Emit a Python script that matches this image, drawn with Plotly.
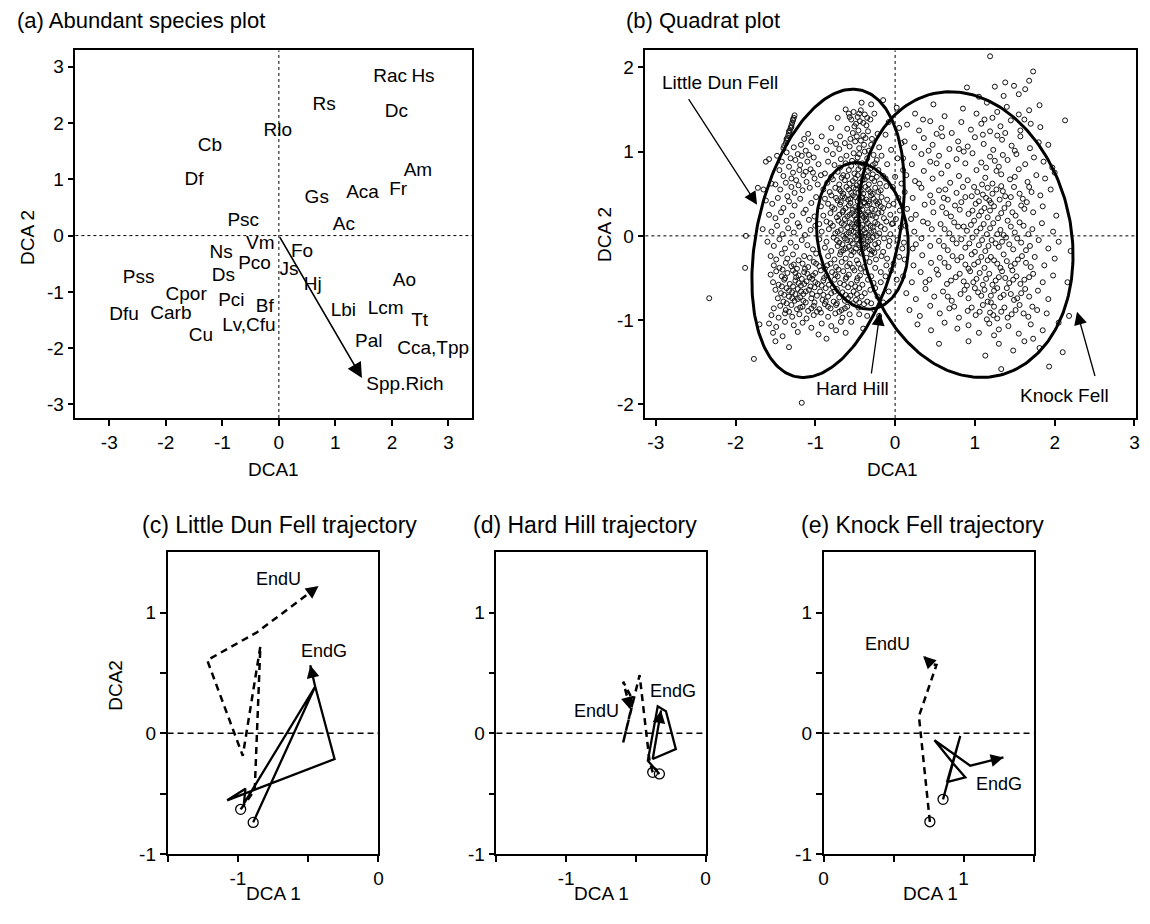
import numpy as np
import plotly.graph_objects as go

FONT = "Arial, Liberation Sans, Helvetica, sans-serif"

# ---------------- (a) Abundant species plot ----------------
species = ["Rac", "Hs", "Rs", "Dc", "Rlo", "Cb", "Df", "Am", "Fr", "Aca", "Gs", "Psc", "Ac", "Vm",
           "Ns", "Fo", "Pco", "Js", "Ds", "Pss", "Hj", "Ao", "Cpor", "Pci", "Bf", "Lbi", "Lcm",
           "Dfu", "Carb", "Tt", "Lv,Cfu", "Cu", "Pal", "Cca,Tpp", "Spp.Rich"]
sp_x = [1.97, 2.55, 0.80, 2.08, -0.02, -1.22, -1.50, 2.46, 2.11, 1.48, 0.67, -0.63, 1.15, -0.33,
        -1.02, 0.41, -0.43, 0.18, -0.98, -2.48, 0.60, 2.22, -1.64, -0.84, -0.25, 1.14, 1.89,
        -2.74, -1.91, 2.49, -0.53, -1.38, 1.59, 2.73, 2.23]
sp_y = [2.82, 2.82, 2.31, 2.19, 1.85, 1.58, 0.99, 1.14, 0.81, 0.76, 0.67, 0.25, 0.19, -0.15,
        -0.32, -0.30, -0.51, -0.61, -0.73, -0.76, -0.88, -0.82, -1.06, -1.17, -1.27, -1.35, -1.30,
        -1.42, -1.39, -1.53, -1.61, -1.78, -1.90, -2.02, -2.65]
rich_arrow_tip = (1.47, -2.53)

ticks_a = [-3, -2, -1, 0, 1, 2, 3]
ticks_b_x = [-3, -2, -1, 0, 1, 2, 3]
ticks_b_y = [-2, -1, 0, 1, 2]

# ---------------- (b) Quadrat plot ----------------
quad_points = [
    # streak along upper-left edge
    (-1.26, 1.43), (-1.27, 1.40), (-1.28, 1.37), (-1.29, 1.34), (-1.30, 1.31), (-1.31, 1.28),
    (-1.32, 1.25), (-1.33, 1.22), (-1.34, 1.19), (-1.35, 1.16), (-1.36, 1.13), (-1.37, 1.10),
    (-1.39, 1.07), (-1.40, 1.04), (-1.33, 1.24), (-1.28, 1.38), (-1.36, 1.15), (-1.30, 1.29),
    (-1.62, 0.88), (-1.58, 0.91), (-1.65, 0.55), (-1.72, 0.57), (-1.55, 0.62),
    # upper-left area
    (-1.48, 0.95), (-1.42, 0.88), (-1.36, 0.99), (-1.31, 0.92), (-1.27, 1.05), (-1.22, 0.97),
    (-1.18, 1.08), (-1.12, 1.01), (-1.05, 1.12), (-0.98, 1.05), (-1.45, 0.78), (-1.40, 0.71),
    (-1.33, 0.82), (-1.28, 0.75), (-1.24, 0.66), (-1.19, 0.84), (-1.15, 0.72), (-1.10, 0.88),
    (-1.06, 0.79), (-1.02, 0.93), (-0.96, 0.85), (-0.93, 0.72), (-1.50, 0.61), (-1.44, 0.55),
    (-1.37, 0.63), (-1.30, 0.58), (-1.26, 0.51), (-1.21, 0.60), (-1.16, 0.54), (-1.11, 0.64),
    (-1.07, 0.57), (-1.01, 0.68), (-0.97, 0.61), (-1.35, 0.47), (-1.14, 1.15), (-1.09, 1.21),
    (-0.92, 1.18), (-1.25, 0.90), (-1.17, 0.95), (-1.08, 0.96), (-1.20, 0.78), (-1.12, 0.76),
    (-1.30, 0.68), (-1.03, 0.75),
    # upper-centre
    (-0.62, 1.50), (-0.58, 1.45), (-0.52, 1.47), (-0.47, 1.41), (-0.43, 1.49), (-0.38, 1.44),
    (-0.55, 1.38), (-0.49, 1.33), (-0.44, 1.36), (-0.36, 1.31), (-0.31, 1.38), (-0.26, 1.45),
    (-0.60, 1.27), (-0.53, 1.22), (-0.46, 1.25), (-0.40, 1.19), (-0.34, 1.24), (-0.29, 1.15),
    (-0.22, 1.21), (-0.69, 1.18), (-0.74, 1.09), (-0.81, 1.12), (-0.86, 1.02), (-0.78, 0.97),
    (-0.70, 1.03), (-0.63, 1.10), (-0.57, 1.06), (-0.50, 1.12), (-0.45, 1.04), (-0.39, 1.08),
    (-0.33, 1.01), (-0.27, 0.96), (-0.20, 1.05), (-0.84, 0.88), (-0.76, 0.84), (-0.68, 0.91),
    (-0.61, 0.95), (-0.54, 0.89), (-0.47, 0.93), (-0.41, 0.86), (-0.35, 0.92), (-0.28, 0.84),
    (-0.23, 0.90), (-0.17, 0.95), (-0.42, 1.58), (-0.30, 1.56), (-0.15, 1.61), (-0.72, 1.40),
    (-0.80, 1.28), (-0.57, 1.41), (-0.51, 1.30), (-0.45, 1.45), (-0.40, 1.34), (-0.35, 1.40),
    (-0.56, 1.15), (-0.48, 1.18), (-0.43, 1.13), (-0.37, 1.16), (-0.52, 0.98), (-0.45, 0.97),
    (-0.38, 1.00), (-0.30, 1.08),
    # dense core
    (-0.72, 0.76), (-0.65, 0.72), (-0.58, 0.78), (-0.51, 0.74), (-0.46, 0.79), (-0.40, 0.71),
    (-0.34, 0.77), (-0.28, 0.73), (-0.21, 0.78), (-0.15, 0.71), (-0.80, 0.70), (-0.88, 0.74),
    (-0.85, 0.63), (-0.78, 0.67), (-0.70, 0.61), (-0.63, 0.66), (-0.57, 0.62), (-0.50, 0.68),
    (-0.44, 0.63), (-0.38, 0.67), (-0.33, 0.61), (-0.26, 0.65), (-0.19, 0.62), (-0.12, 0.68),
    (-0.48, 0.60), (-0.90, 0.55), (-0.82, 0.52), (-0.75, 0.57), (-0.68, 0.53), (-0.61, 0.58),
    (-0.55, 0.51), (-0.49, 0.56), (-0.43, 0.53), (-0.37, 0.58), (-0.31, 0.52), (-0.25, 0.57),
    (-0.18, 0.54), (-0.11, 0.59), (-0.40, 0.50), (-0.58, 0.55), (-0.88, 0.44), (-0.80, 0.48),
    (-0.72, 0.42), (-0.66, 0.47), (-0.59, 0.43), (-0.53, 0.48), (-0.47, 0.41), (-0.42, 0.46),
    (-0.36, 0.43), (-0.30, 0.48), (-0.24, 0.41), (-0.17, 0.46), (-0.10, 0.43), (-0.45, 0.44),
    (-0.39, 0.40), (-0.63, 0.45), (-0.93, 0.35), (-0.84, 0.38), (-0.76, 0.32), (-0.69, 0.37),
    (-0.62, 0.33), (-0.56, 0.39), (-0.50, 0.34), (-0.44, 0.37), (-0.41, 0.31), (-0.35, 0.36),
    (-0.29, 0.32), (-0.22, 0.38), (-0.15, 0.33), (-0.08, 0.36), (-0.47, 0.30), (-0.38, 0.39),
    (-0.53, 0.31), (-0.90, 0.24), (-0.81, 0.27), (-0.73, 0.22), (-0.66, 0.28), (-0.60, 0.23),
    (-0.54, 0.27), (-0.48, 0.21), (-0.43, 0.26), (-0.39, 0.22), (-0.34, 0.28), (-0.28, 0.24),
    (-0.21, 0.27), (-0.14, 0.21), (-0.06, 0.25), (-0.45, 0.29), (-0.36, 0.20), (-0.51, 0.24),
    (-0.95, 0.14), (-0.86, 0.17), (-0.78, 0.12), (-0.71, 0.18), (-0.64, 0.13), (-0.57, 0.16),
    (-0.51, 0.11), (-0.46, 0.17), (-0.41, 0.13), (-0.37, 0.18), (-0.31, 0.12), (-0.25, 0.16),
    (-0.18, 0.11), (-0.11, 0.17), (-0.04, 0.14), (-0.43, 0.10), (-0.49, 0.19), (-0.92, 0.05),
    (-0.83, 0.08), (-0.75, 0.03), (-0.68, 0.07), (-0.61, 0.02), (-0.55, 0.06), (-0.49, 0.09),
    (-0.44, 0.04), (-0.39, 0.07), (-0.33, 0.01), (-0.27, 0.06), (-0.20, 0.03), (-0.13, 0.08),
    (-0.06, 0.02), (-0.42, 0.00), (-0.36, 0.09), (-0.95, -0.04), (-0.86, -0.07), (-0.77, -0.02),
    (-0.70, -0.08), (-0.63, -0.03), (-0.56, -0.06), (-0.50, -0.01), (-0.45, -0.09), (-0.40, -0.04),
    (-0.34, -0.07), (-0.28, -0.02), (-0.21, -0.08), (-0.14, -0.03), (-0.07, -0.06), (-0.88, -0.14),
    (-0.80, -0.18), (-0.72, -0.12), (-0.65, -0.17), (-0.58, -0.13), (-0.52, -0.19), (-0.46, -0.11),
    (-0.41, -0.16), (-0.35, -0.12), (-0.29, -0.18), (-0.22, -0.14), (-0.15, -0.19), (-0.08, -0.12),
    (-0.84, -0.24), (-0.76, -0.28), (-0.69, -0.22), (-0.62, -0.27), (-0.55, -0.23), (-0.48, -0.29),
    (-0.42, -0.21), (-0.36, -0.26), (-0.30, -0.22), (-0.24, -0.28), (-0.17, -0.24), (-0.10, -0.27),
    (-0.43, 0.35), (-0.37, 0.25), (-0.41, 0.45), (-0.46, 0.14), (-0.39, -0.01), (-0.44, 0.58),
    (-0.69, 0.81), (-0.62, 0.86), (-0.55, 0.83), (-0.48, 0.87), (-0.43, 0.82), (-0.37, 0.85),
    (-0.31, 0.80), (-0.25, 0.86), (-0.67, 0.69), (-0.60, 0.71), (-0.53, 0.65), (-0.47, 0.72),
    (-0.41, 0.66), (-0.35, 0.70), (-0.29, 0.68), (-0.23, 0.70), (-0.65, 0.50), (-0.52, 0.57),
    (-0.46, 0.51), (-0.34, 0.55), (-0.28, 0.50), (-0.21, 0.52), (-0.70, 0.55), (-0.68, 0.40),
    (-0.56, 0.44), (-0.50, 0.46), (-0.33, 0.41), (-0.27, 0.44), (-0.20, 0.40), (-0.74, 0.45),
    (-0.65, 0.30), (-0.58, 0.36), (-0.46, 0.33), (-0.32, 0.38), (-0.25, 0.31), (-0.18, 0.35),
    (-0.79, 0.34), (-0.70, 0.25), (-0.63, 0.20), (-0.57, 0.25), (-0.41, 0.24), (-0.31, 0.25),
    (-0.24, 0.22), (-0.17, 0.28), (-0.67, 0.15), (-0.60, 0.10), (-0.54, 0.14), (-0.48, 0.15),
    (-0.34, 0.15), (-0.28, 0.10), (-0.22, 0.14), (-0.81, 0.15), (-0.72, 0.05), (-0.65, 0.00),
    (-0.58, 0.04), (-0.52, 0.05), (-0.47, 0.01), (-0.37, 0.03), (-0.30, 0.04), (-0.23, 0.00),
    (-0.73, -0.05), (-0.66, -0.10), (-0.60, -0.05), (-0.53, -0.09), (-0.48, -0.04), (-0.43, -0.06),
    (-0.37, -0.10), (-0.31, -0.05), (-0.25, -0.10), (-0.68, -0.19), (-0.62, -0.15), (-0.55, -0.17),
    (-0.49, -0.15), (-0.44, -0.19), (-0.38, -0.14), (-0.32, -0.16), (-0.26, -0.20),
    # left-middle
    (-1.62, 0.42), (-1.54, 0.38), (-1.47, 0.45), (-1.40, 0.33), (-1.33, 0.41), (-1.26, 0.36),
    (-1.19, 0.44), (-1.12, 0.31), (-1.05, 0.39), (-0.99, 0.46), (-1.58, 0.25), (-1.50, 0.21),
    (-1.43, 0.28), (-1.36, 0.18), (-1.29, 0.24), (-1.22, 0.15), (-1.15, 0.27), (-1.08, 0.19),
    (-1.01, 0.23), (-1.66, 0.08), (-1.55, 0.05), (-1.48, 0.12), (-1.41, 0.02), (-1.34, 0.09),
    (-1.27, 0.04), (-1.20, 0.11), (-1.13, 0.01), (-1.06, 0.07), (-1.00, 0.12), (-1.60, -0.07),
    (-1.52, -0.12), (-1.45, -0.04), (-1.38, -0.15), (-1.31, -0.08), (-1.24, -0.13), (-1.17, -0.05),
    (-1.10, -0.11), (-1.03, -0.16), (-1.56, -0.24), (-1.49, -0.28), (-1.42, -0.21), (-1.35, -0.27),
    (-1.28, -0.22), (-1.21, -0.29), (-1.14, -0.24), (-1.07, -0.26), (-0.99, -0.21),
    (-1.87, 0.00), (-1.88, -0.38),
    # dense bottom-left
    (-1.52, -0.35), (-1.45, -0.38), (-1.37, -0.32), (-1.30, -0.36), (-1.23, -0.39), (-1.16, -0.33),
    (-1.09, -0.37), (-1.02, -0.31), (-0.95, -0.36), (-0.88, -0.39), (-0.81, -0.33), (-0.74, -0.37),
    (-0.67, -0.31), (-0.60, -0.36), (-0.53, -0.38), (-0.46, -0.33), (-0.39, -0.37), (-0.32, -0.31),
    (-1.56, -0.46), (-1.49, -0.42), (-1.42, -0.48), (-1.35, -0.44), (-1.28, -0.41), (-1.21, -0.47),
    (-1.14, -0.43), (-1.07, -0.49), (-1.00, -0.44), (-0.93, -0.41), (-0.86, -0.47), (-0.79, -0.43),
    (-0.72, -0.48), (-0.65, -0.42), (-0.58, -0.46), (-0.51, -0.41), (-0.44, -0.47), (-0.37, -0.43),
    (-0.30, -0.48), (-1.25, -0.44), (-1.10, -0.45), (-1.53, -0.55), (-1.46, -0.58), (-1.39, -0.52),
    (-1.32, -0.57), (-1.25, -0.53), (-1.18, -0.59), (-1.11, -0.54), (-1.04, -0.51), (-0.97, -0.57),
    (-0.90, -0.53), (-0.83, -0.58), (-0.76, -0.52), (-0.69, -0.56), (-0.62, -0.51), (-0.55, -0.57),
    (-0.48, -0.53), (-0.41, -0.58), (-0.34, -0.52), (-0.27, -0.56), (-1.21, -0.56), (-1.00, -0.55),
    (-1.50, -0.64), (-1.43, -0.68), (-1.36, -0.62), (-1.29, -0.67), (-1.22, -0.63), (-1.15, -0.69),
    (-1.08, -0.64), (-1.01, -0.61), (-0.94, -0.66), (-0.87, -0.62), (-0.80, -0.68), (-0.73, -0.63),
    (-0.66, -0.67), (-0.59, -0.61), (-0.52, -0.66), (-0.45, -0.62), (-0.38, -0.68), (-0.31, -0.64),
    (-1.33, -0.65), (-1.12, -0.66), (-1.47, -0.74), (-1.40, -0.78), (-1.33, -0.72), (-1.26, -0.77),
    (-1.19, -0.73), (-1.12, -0.79), (-1.05, -0.74), (-0.98, -0.71), (-0.91, -0.76), (-0.84, -0.72),
    (-0.77, -0.78), (-0.70, -0.73), (-0.63, -0.77), (-0.56, -0.71), (-0.49, -0.76), (-0.42, -0.72),
    (-0.35, -0.78), (-1.22, -0.75), (-1.52, -0.86), (-1.44, -0.83), (-1.37, -0.88), (-1.30, -0.82),
    (-1.23, -0.87), (-1.16, -0.84), (-1.09, -0.89), (-1.02, -0.83), (-0.95, -0.87), (-0.88, -0.81),
    (-0.81, -0.86), (-0.74, -0.82), (-0.67, -0.88), (-0.60, -0.84), (-0.53, -0.80), (-0.46, -0.85),
    (-0.39, -0.81), (-1.55, -0.94), (-1.46, -0.97), (-1.38, -0.92), (-1.29, -0.96), (-1.20, -0.93),
    (-1.11, -0.98), (-1.02, -0.94), (-0.93, -0.91), (-0.84, -0.96), (-0.75, -0.92), (-0.66, -0.97),
    (-0.57, -0.93),
    (-1.41, -0.40), (-1.27, -0.34), (-1.13, -0.39), (-0.99, -0.33), (-0.85, -0.35), (-0.71, -0.40),
    (-0.57, -0.33), (-0.43, -0.39), (-1.38, -0.50), (-1.24, -0.49), (-1.17, -0.51), (-1.03, -0.47),
    (-0.89, -0.50), (-0.75, -0.46), (-0.61, -0.49), (-0.47, -0.50), (-1.42, -0.60), (-1.28, -0.60),
    (-1.14, -0.57), (-1.06, -0.60), (-0.92, -0.59), (-0.78, -0.61), (-0.64, -0.58), (-0.50, -0.60),
    (-1.39, -0.70), (-1.25, -0.69), (-1.18, -0.66), (-1.04, -0.69), (-0.90, -0.70), (-0.76, -0.66),
    (-0.62, -0.70), (-0.48, -0.69), (-1.36, -0.80), (-1.29, -0.74), (-1.15, -0.77), (-1.01, -0.79),
    (-0.87, -0.78), (-0.73, -0.80), (-0.59, -0.74), (-0.45, -0.79), (-1.33, -0.90), (-1.19, -0.85),
    (-1.05, -0.86), (-0.98, -0.90), (-0.84, -0.84), (-0.70, -0.90), (-0.63, -0.86),
    # sparse bottom
    (-1.58, -1.04), (-1.49, -1.08), (-1.38, -1.02), (-1.27, -1.06), (-1.16, -1.03), (-1.05, -1.09),
    (-0.92, -1.04), (-0.80, -1.07), (-0.68, -1.02), (-1.53, -1.15), (-1.41, -1.19), (-1.22, -1.14),
    (-0.96, -1.17), (-0.74, -1.12), (-1.50, -1.25), (-1.33, -1.32), (-0.86, -1.22), (-1.77, -1.46),
    (-1.17, -1.98), (-2.33, -0.74), (-1.70, -1.05),
    # middle strip
    (-0.25, -0.62), (-0.18, -0.55), (-0.12, -0.48), (-0.22, -0.72), (-0.15, -0.79), (-0.08, -0.66),
    (-0.05, -0.41), (0.02, -0.52), (-0.02, -0.33), (0.05, -0.25), (-0.25, -0.38), (-0.18, -0.43),
    (-0.11, -0.35), (-0.30, -0.80), (-0.26, -0.88), (-0.55, -1.02), (-0.45, -0.93), (-0.35, -0.95),
    (-0.20, -0.95), (-0.40, -1.10), (-0.62, -1.15), (0.02, 1.52), (-0.08, 1.35), (0.05, 1.28),
    (-0.12, 1.20), (0.08, 1.10), (-0.05, 1.02), (0.03, 0.92), (-0.10, 0.85), (0.10, 0.78),
    (0.00, 0.70), (-0.03, 0.58), (0.08, 0.62), (0.04, 0.45), (-0.02, 0.38), (0.06, 0.30),
    (0.01, 0.20), (0.07, 0.10), (0.03, -0.05), (0.09, -0.15), (-0.03, 0.15),
    # Knock Fell lobe
    (0.25, 1.45), (0.48, 1.56), (0.62, 1.42), (0.85, 1.51), (1.02, 1.45), (1.15, 1.58),
    (1.28, 1.47), (1.40, 1.53), (1.55, 1.44), (1.68, 1.49), (0.35, 1.38), (1.22, 1.40),
    (0.90, 1.76), (1.25, 1.77), (1.36, 1.66), (1.49, 1.78), (1.63, 1.74), (1.38, 1.82),
    (1.68, 1.84), (1.73, 1.95), (1.55, 1.68), (1.81, 1.55), (1.19, 2.13), (2.13, 1.37),
    (1.05, 1.65),
    (0.15, 1.32), (0.30, 1.25), (0.44, 1.36), (0.58, 1.28), (0.71, 1.22), (0.83, 1.35),
    (0.95, 1.26), (1.08, 1.33), (1.19, 1.24), (1.32, 1.30), (1.45, 1.37), (1.57, 1.25),
    (1.70, 1.33), (1.82, 1.29), (0.52, 1.21), (1.12, 1.38), (1.38, 1.22), (1.62, 1.38),
    (0.12, 1.12), (0.24, 1.05), (0.36, 1.16), (0.47, 1.08), (0.59, 1.18), (0.68, 1.03),
    (0.79, 1.12), (0.91, 1.06), (1.00, 1.17), (1.11, 1.09), (1.23, 1.02), (1.34, 1.14),
    (1.46, 1.07), (1.57, 1.18), (1.69, 1.04), (1.80, 1.11), (1.92, 1.08), (0.86, 1.00),
    (1.28, 1.19), (1.50, 1.01), (0.42, 1.01),
    (0.10, 0.92), (0.21, 0.85), (0.33, 0.97), (0.44, 0.88), (0.55, 0.95), (0.66, 0.83),
    (0.77, 0.91), (0.88, 0.86), (0.97, 0.98), (1.08, 0.87), (1.19, 0.94), (1.30, 0.82),
    (1.41, 0.90), (1.52, 0.97), (1.63, 0.85), (1.74, 0.93), (1.86, 0.88), (1.97, 0.81),
    (1.14, 0.81), (1.35, 0.96), (1.25, 0.89),
    (0.14, 0.72), (0.25, 0.65), (0.36, 0.77), (0.47, 0.68), (0.58, 0.74), (0.69, 0.63),
    (0.80, 0.71), (0.91, 0.66), (1.02, 0.78), (1.13, 0.69), (1.22, 0.62), (1.33, 0.73),
    (1.44, 0.67), (1.55, 0.79), (1.66, 0.64), (1.77, 0.72), (1.88, 0.68), (2.00, 0.75),
    (1.27, 0.77), (1.09, 0.61), (1.50, 0.70),
    (0.12, 0.52), (0.22, 0.45), (0.33, 0.57), (0.44, 0.48), (0.55, 0.54), (0.66, 0.43),
    (0.77, 0.51), (0.88, 0.46), (0.99, 0.58), (1.10, 0.49), (1.18, 0.42), (1.27, 0.55),
    (1.38, 0.47), (1.49, 0.58), (1.60, 0.44), (1.71, 0.52), (1.82, 0.48), (1.95, 0.55),
    (1.05, 0.41), (1.33, 0.59), (1.22, 0.50),
    (0.15, 0.32), (0.26, 0.25), (0.37, 0.37), (0.48, 0.28), (0.59, 0.34), (0.70, 0.23),
    (0.81, 0.31), (0.92, 0.26), (1.01, 0.38), (1.08, 0.29), (1.16, 0.22), (1.24, 0.35),
    (1.33, 0.27), (1.42, 0.38), (1.51, 0.24), (1.62, 0.32), (1.73, 0.28), (1.85, 0.35),
    (2.02, 0.24), (1.12, 0.33), (1.29, 0.21), (1.20, 0.39),
    (0.13, 0.12), (0.24, 0.05), (0.35, 0.17), (0.46, 0.08), (0.57, 0.14), (0.68, 0.03),
    (0.79, 0.11), (0.90, 0.06), (0.99, 0.18), (1.07, 0.09), (1.15, 0.02), (1.23, 0.15),
    (1.32, 0.07), (1.41, 0.18), (1.50, 0.04), (1.61, 0.12), (1.72, 0.08), (1.84, 0.15),
    (1.98, 0.05), (1.11, 0.14), (1.36, 0.01), (0.95, 0.13),
    (0.11, -0.08), (0.22, -0.15), (0.33, -0.03), (0.44, -0.12), (0.55, -0.06), (0.66, -0.17),
    (0.77, -0.09), (0.88, -0.14), (0.97, -0.02), (1.05, -0.11), (1.13, -0.18), (1.21, -0.05),
    (1.30, -0.13), (1.39, -0.02), (1.48, -0.16), (1.58, -0.08), (1.69, -0.12), (1.80, -0.05),
    (1.92, -0.15), (2.05, -0.07), (1.00, -0.19), (1.26, -0.09), (0.83, -0.04),
    (0.12, -0.28), (0.23, -0.35), (0.34, -0.23), (0.45, -0.32), (0.56, -0.26), (0.67, -0.37),
    (0.78, -0.29), (0.88, -0.34), (0.96, -0.22), (1.04, -0.31), (1.12, -0.38), (1.20, -0.25),
    (1.28, -0.33), (1.36, -0.22), (1.45, -0.36), (1.54, -0.28), (1.64, -0.32), (1.75, -0.25),
    (1.87, -0.35), (2.00, -0.27), (0.92, -0.39), (1.16, -0.29), (1.40, -0.30), (0.72, -0.24),
    (0.10, -0.48), (0.21, -0.55), (0.32, -0.43), (0.43, -0.52), (0.54, -0.46), (0.65, -0.57),
    (0.76, -0.49), (0.86, -0.54), (0.94, -0.42), (1.02, -0.51), (1.10, -0.58), (1.18, -0.45),
    (1.26, -0.53), (1.34, -0.42), (1.43, -0.56), (1.52, -0.48), (1.62, -0.52), (1.73, -0.45),
    (1.85, -0.55), (1.98, -0.47), (1.06, -0.44), (1.30, -0.49), (0.90, -0.59), (1.47, -0.41),
    (0.14, -0.68), (0.26, -0.75), (0.38, -0.63), (0.49, -0.72), (0.60, -0.66), (0.71, -0.77),
    (0.82, -0.69), (0.92, -0.74), (1.00, -0.62), (1.08, -0.71), (1.16, -0.78), (1.24, -0.65),
    (1.32, -0.73), (1.40, -0.62), (1.49, -0.76), (1.58, -0.68), (1.68, -0.72), (1.79, -0.65),
    (1.92, -0.75), (1.12, -0.64), (1.36, -0.70), (1.20, -0.79),
    (0.18, -0.88), (0.31, -0.95), (0.44, -0.83), (0.56, -0.92), (0.68, -0.86), (0.80, -0.97),
    (0.91, -0.89), (1.01, -0.94), (1.10, -0.82), (1.19, -0.91), (1.28, -0.98), (1.37, -0.85),
    (1.46, -0.93), (1.56, -0.82), (1.67, -0.96), (1.78, -0.88), (1.90, -0.92), (1.24, -0.84),
    (1.15, -0.99), (1.41, -0.97),
    (0.28, -1.05), (0.45, -1.12), (0.62, -1.03), (0.78, -1.10), (0.92, -1.06), (1.05, -1.15),
    (1.18, -1.04), (1.30, -1.11), (1.42, -1.07), (1.55, -1.16), (1.70, -1.05), (1.85, -1.12),
    (2.05, -1.03), (1.24, -1.18),
    (0.55, -1.28), (0.92, -1.25), (1.13, -1.42), (1.30, -1.28), (1.48, -1.36), (1.62, -1.25),
    (1.81, -1.33), (2.10, -1.38), (1.93, -1.55), (1.73, -1.22), (1.33, -1.58), (2.20, -0.18),
    (2.16, -0.55), (2.18, -0.95),
    (0.63, 0.55), (0.85, 0.58), (1.03, 0.52), (1.16, 0.57), (1.35, 0.53), (1.56, 0.50),
    (1.68, 0.58), (0.61, 0.45), (0.83, 0.40), (0.96, 0.47), (1.14, 0.45), (1.31, 0.43),
    (1.45, 0.46), (1.65, 0.40), (0.64, 0.27), (0.75, 0.36), (0.97, 0.30), (1.05, 0.24),
    (1.19, 0.30), (1.37, 0.33), (1.47, 0.28), (1.58, 0.36), (0.62, 0.08), (0.74, 0.16),
    (0.86, 0.11), (1.02, 0.05), (1.19, 0.09), (1.28, 0.02), (1.45, 0.11), (1.56, 0.16),
    (1.67, 0.02), (0.61, -0.12), (0.72, -0.04), (0.93, -0.09), (1.09, -0.05), (1.17, -0.12),
    (1.34, -0.07), (1.43, -0.10), (1.53, -0.03), (1.64, -0.17), (0.62, -0.32), (0.83, -0.25),
    (0.99, -0.34), (1.08, -0.25), (1.24, -0.29), (1.32, -0.38), (1.50, -0.33), (1.59, -0.24),
    (1.70, -0.37), (0.70, -0.53), (0.81, -0.45), (0.98, -0.55), (1.14, -0.51), (1.22, -0.58),
    (1.38, -0.50), (1.48, -0.52), (1.57, -0.57), (1.68, -0.49), (0.66, -0.72), (0.87, -0.64),
    (1.04, -0.67), (1.20, -0.71), (1.28, -0.62), (1.45, -0.69), (1.53, -0.74), (1.63, -0.63),
    (0.74, -0.84), (0.96, -0.85), (1.06, -0.90), (1.23, -0.94), (1.33, -0.90), (1.51, -0.88),
    (1.61, -0.92), (1.72, -0.84), (0.30, 0.62), (0.41, 0.15), (0.38, -0.55), (0.26, -0.10),
    (0.52, -0.40), (0.47, 0.40), (0.20, 0.20), (0.52, 0.86), (0.80, 1.03), (1.10, 1.20),
]
quad_x = [p[0] for p in quad_points]
quad_y = [p[1] for p in quad_points]

# site ellipses: centre x, centre y, semi-major, semi-minor, angle (deg)
ell_names = ["Little Dun Fell", "Hard Hill", "Knock Fell"]
ell_cx = [-0.84, -0.41, 0.886]
ell_cy = [0.03, 0.00, 0.015]
ell_a = [1.748, 0.876, 1.722]
ell_b = [0.884, 0.566, 1.309]
ell_ang = [76.1, 99.1, 105.8]

# site labels with arrows: text pos, arrow start, arrow tip
site_lbl_x = [-2.20, -0.54, 2.12]
site_lbl_y = [1.82, -1.81, -1.895]
site_arr_from = [(-2.60, 1.64), (-0.30, -1.65), (2.51, -1.68)]
site_arr_to = [(-1.73, 0.37), (-0.19, -0.91), (2.28, -0.90)]

# ---------------- (c)-(e) trajectories ----------------
c_u_x = [-0.98, -0.88, -0.84, -0.965, -1.218, -0.863, -0.426]
c_u_y = [-0.63, -0.47, 0.72, -0.186, 0.606, 0.838, 1.221]
c_g_x = [-0.891, -0.45, -0.312, -1.076, -0.946, -0.957, -0.45, -0.485]
c_g_y = [-0.738, 0.388, -0.213, -0.555, -0.459, -0.582, 0.388, 0.565]

d_u_x = [-0.379, -0.402, -0.473, -0.591, -0.52, -0.591, -0.539]
d_u_y = [-0.323, -0.227, 0.483, -0.077, 0.27, 0.429, 0.197]
d_g_x = [-0.331, -0.414, -0.343, -0.284, -0.213, -0.379, -0.319]
d_g_y = [-0.336, -0.227, 0.224, 0.183, -0.131, -0.213, 0.19]

e_u_x = [0.759, 0.692, 0.681, 0.806, 0.77, 0.711]
e_u_y = [-0.733, -0.008, 0.142, 0.566, 0.575, 0.642]
e_g_x = [0.853, 0.976, 0.881, 1.012, 0.929, 0.792, 1.047, 1.284]
e_g_y = [-0.547, -0.022, -0.405, -0.364, -0.254, -0.057, -0.268, -0.20]

traj_label_pos = {
    "c": [(-0.709, 1.275), (-0.39, 0.683)],
    "d": [(-0.785, 0.188), (-0.232, 0.352)],
    "e": [(0.456, 0.743), (1.253, -0.418)],
}

fig = go.Figure()

# panel (a)
fig.add_trace(go.Scatter(x=sp_x, y=sp_y, text=species, mode="text",
                         textfont=dict(family=FONT, size=19, color="black"),
                         xaxis="x", yaxis="y", showlegend=False, hoverinfo="skip",
                         cliponaxis=False))

# panel (b)
fig.add_trace(go.Scatter(x=quad_x, y=quad_y, mode="markers",
                         marker=dict(symbol="circle-open", size=5, color="#111",
                                     line=dict(width=1.0, color="#111")),
                         xaxis="x2", yaxis="y2", showlegend=False, hoverinfo="skip"))
for cx, cy, a, b, ang in zip(ell_cx, ell_cy, ell_a, ell_b, ell_ang):
    t = np.linspace(0, 2 * np.pi, 241)
    th = np.deg2rad(ang)
    ex = cx + a * np.cos(t) * np.cos(th) - b * np.sin(t) * np.sin(th)
    ey = cy + a * np.cos(t) * np.sin(th) + b * np.sin(t) * np.cos(th)
    fig.add_trace(go.Scatter(x=ex, y=ey, mode="lines", line=dict(color="black", width=3),
                             xaxis="x2", yaxis="y2", showlegend=False, hoverinfo="skip"))

annotations = []


def arrow(xr, yr, p0, p1, width=1.5, size=1.0, head=2):
    annotations.append(dict(x=p1[0], y=p1[1], ax=p0[0], ay=p0[1], xref=xr, yref=yr,
                            axref=xr, ayref=yr, showarrow=True, arrowhead=head,
                            arrowsize=size, arrowwidth=width, arrowcolor="black", text=""))


def head_only(xr, yr, xs, ys, width=2.2):
    px, py = xs[-2], ys[-2]
    tx, ty = xs[-1], ys[-1]
    d = np.hypot(tx - px, ty - py)
    f = min(1.0, 0.07 / d)
    arrow(xr, yr, (tx - f * (tx - px), ty - f * (ty - py)), (tx, ty), width=width, size=1.15)


arrow("x", "y", (0, 0), rich_arrow_tip, width=1.6, size=1.9)
for (lx, ly), name, p0, p1 in zip(zip(site_lbl_x, site_lbl_y), ell_names, site_arr_from, site_arr_to):
    annotations.append(dict(x=lx, y=ly, xref="x2", yref="y2", text=name, showarrow=False,
                            font=dict(family=FONT, size=19, color="black")))
    arrow("x2", "y2", p0, p1, width=1.3, size=2.0)

panels = [("x3", "y3", c_u_x, c_u_y, c_g_x, c_g_y, "c"),
          ("x4", "y4", d_u_x, d_u_y, d_g_x, d_g_y, "d"),
          ("x5", "y5", e_u_x, e_u_y, e_g_x, e_g_y, "e")]
for xa, ya, ux, uy, gx, gy, key in panels:
    fig.add_trace(go.Scatter(x=ux, y=uy, mode="lines",
                             line=dict(color="black", width=2.5, dash="7px,5px"),
                             xaxis=xa, yaxis=ya, showlegend=False, hoverinfo="skip"))
    fig.add_trace(go.Scatter(x=gx, y=gy, mode="lines", line=dict(color="black", width=2.3),
                             xaxis=xa, yaxis=ya, showlegend=False, hoverinfo="skip"))
    fig.add_trace(go.Scatter(x=[ux[0], gx[0]], y=[uy[0], gy[0]], mode="markers",
                             marker=dict(symbol="circle-open", size=10, color="black",
                                         line=dict(width=1.3)),
                             xaxis=xa, yaxis=ya, showlegend=False, hoverinfo="skip"))
    head_only(xa, ya, ux, uy)
    head_only(xa, ya, gx, gy)
    (ulx, uly), (glx, gly) = traj_label_pos[key]
    for tx, ty, tt in [(ulx, uly, "EndU"), (glx, gly, "EndG")]:
        annotations.append(dict(x=tx, y=ty, xref=xa, yref=ya, text=tt, showarrow=False,
                                font=dict(family=FONT, size=18, color="black")))

# zero reference lines
shapes = []
for xa, ya in [("x", "y"), ("x2", "y2")]:
    shapes.append(dict(type="line", xref=xa, yref=ya + " domain", x0=0, x1=0, y0=0, y1=1,
                       line=dict(color="black", width=1, dash="3px,3px")))
    shapes.append(dict(type="line", xref=xa + " domain", yref=ya, x0=0, x1=1, y0=0, y1=0,
                       line=dict(color="black", width=1, dash="3px,3px")))
for xa, ya in [("x3", "y3"), ("x4", "y4"), ("x5", "y5")]:
    shapes.append(dict(type="line", xref=xa + " domain", yref=ya, x0=0, x1=1, y0=0, y1=0,
                       line=dict(color="black", width=1.5, dash="6px,4px")))


def lab(v):
    return str(v)


def axis(domain, rng, tvals, ttext, anchor):
    return dict(domain=domain, range=rng, tickvals=tvals, ticktext=ttext, anchor=anchor,
                showline=True, mirror=True, linecolor="black", linewidth=1.5,
                ticks="outside", ticklen=6, tickwidth=1.5, tickcolor="black",
                showgrid=False, zeroline=False, fixedrange=True,
                tickfont=dict(family=FONT, size=19, color="black"))


W, H = 1150, 924
ya_dom = [1 - 423 / H, 1 - 51 / H]
yc_dom = [1 - 864.3 / H, 1 - 559 / H]
traj_y_vals = [-1, -0.5, 0, 0.5, 1]
traj_y_text = ["-1", "", "0", "", "1"]

layout = dict(
    width=W, height=H, margin=dict(l=0, r=0, t=0, b=0),
    paper_bgcolor="white", plot_bgcolor="white", hovermode=False,
    showlegend=False, font=dict(family=FONT, color="black"),
    xaxis=axis([71 / W, 471 / W], [-3.6, 3.415], ticks_a, [lab(v) for v in ticks_a], "y"),
    yaxis=axis(ya_dom, [-3.24, 3.29], ticks_a, [lab(v) for v in ticks_a], "x"),
    xaxis2=axis([646 / W, 1141 / W], [-3.13, 3.02], ticks_b_x, [lab(v) for v in ticks_b_x], "y2"),
    yaxis2=axis(ya_dom, [-2.16, 2.2], ticks_b_y, [lab(v) for v in ticks_b_y], "x2"),
    xaxis3=axis([164 / W, 376.7 / W], [-1.5, 0], [-1.5, -1, -0.5, 0], ["", "-1", "", "0"], "y3"),
    yaxis3=axis(yc_dom, [-1, 1.5], traj_y_vals, traj_y_text, "x3"),
    xaxis4=axis([495.7 / W, 706.7 / W], [-1.5, 0], [-1.5, -1, -0.5, 0], ["", "-1", "", "0"], "y4"),
    yaxis4=axis(yc_dom, [-1, 1.5], traj_y_vals, traj_y_text, "x4"),
    xaxis5=axis([825.7 / W, 1037.7 / W], [0, 1.5], [0, 0.5, 1, 1.5], ["0", "", "1", ""], "y5"),
    yaxis5=axis(yc_dom, [-1, 1.5], traj_y_vals, traj_y_text, "x5"),
    shapes=shapes,
)


def paper_text(txt, px, py, size, xanchor="center", angle=0):
    annotations.append(dict(x=px / W, y=1 - py / H, xref="paper", yref="paper", text=txt,
                            showarrow=False, xanchor=xanchor, yanchor="middle",
                            textangle=angle, font=dict(family=FONT, size=size, color="black")))


paper_text("(a) Abundant species plot", 10, 21, 22, xanchor="left")
paper_text("(b) Quadrat plot", 624, 21, 22, xanchor="left")
paper_text("(c) Little Dun Fell trajectory", 277, 531, 23)
paper_text("(d) Hard Hill trajectory", 585.5, 531, 23)
paper_text("(e) Knock Fell trajectory", 926, 531, 23)
paper_text("DCA1", 271, 475, 19)
paper_text("DCA 2", 22, 240, 19, angle=-90)
paper_text("DCA1", 895, 475, 19)
paper_text("DCA 2", 604, 237, 19, angle=-90)
paper_text("DCA2", 112, 694, 19, angle=-90)
paper_text("DCA 1", 271, 904, 19)
paper_text("DCA 1", 601.7, 904, 19)
paper_text("DCA 1", 933.3, 904, 19)

layout["annotations"] = annotations
fig.update_layout(**layout)
fig.write_html("out.html")
